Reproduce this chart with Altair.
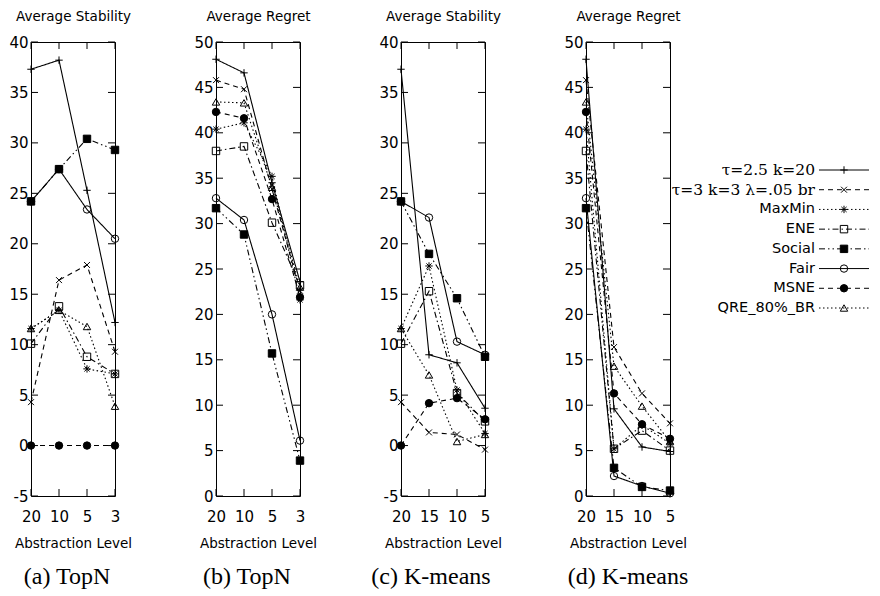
import altair as alt
import pandas as pd

series = ["τ=2.5 k=20", "τ=3 k=3 λ=.05 br", "MaxMin", "ENE", "Social", "Fair", "MSNE", "QRE_80%_BR"]
serif_labels = ["τ=2.5 k=20", "τ=3 k=3 λ=.05 br"]

levels_topn = ["20", "10", "5", "3"]
levels_kmeans = ["20", "15", "10", "5"]

# (a) TopN - Average Stability
topn_stability = [
    [37.3, 38.2, 25.3, 12.2],
    [4.3, 16.4, 17.9, 9.3],
    [11.6, 13.4, 7.6, 7.1],
    [10.1, 13.8, 8.8, 7.1],
    [24.2, 27.4, 30.4, 29.3],
    [24.2, 27.4, 23.4, 20.5],
    [0.0, 0.0, 0.0, 0.0],
    [11.6, 13.4, 11.8, 3.9],
]
# (b) TopN - Average Regret
topn_regret = [
    [48.1, 46.6, 34.5, 23.6],
    [45.8, 44.8, 33.8, 22.6],
    [40.4, 41.1, 35.2, 21.6],
    [38.0, 38.5, 30.1, 23.2],
    [31.7, 28.8, 15.7, 3.9],
    [32.8, 30.4, 20.0, 6.1],
    [42.3, 41.6, 32.7, 21.9],
    [43.4, 43.3, 34.0, 23.0],
]
# (c) K-means - Average Stability
kmeans_stability = [
    [37.3, 9.0, 8.2, 3.7],
    [4.3, 1.3, 1.1, -0.4],
    [11.6, 17.8, 5.5, 1.2],
    [10.1, 15.3, 5.2, 2.4],
    [24.2, 19.0, 14.6, 8.8],
    [24.2, 22.6, 10.3, 9.0],
    [0.0, 4.2, 4.7, 2.6],
    [11.6, 7.0, 0.4, 1.1],
]
# (d) K-means - Average Regret
kmeans_regret = [
    [48.1, 9.6, 5.4, 4.9],
    [45.8, 16.4, 11.3, 8.0],
    [40.4, 5.2, 7.8, 5.8],
    [38.0, 5.2, 7.2, 5.0],
    [31.7, 3.1, 1.0, 0.6],
    [32.8, 2.2, 1.1, 0.3],
    [42.3, 11.3, 7.9, 6.3],
    [43.4, 14.3, 9.9, 6.0],
]

stability_ticks = [-5, 0, 5, 10, 15, 20, 25, 30, 35, 40]
regret_ticks = [0, 5, 10, 15, 20, 25, 30, 35, 40, 45, 50]

# styles
PLUS = "M-1,0L1,0M0,-1L0,1"
CROSS = "M-0.8,-0.8L0.8,0.8M-0.8,0.8L0.8,-0.8"
STAR = "M-1,0L1,0M0,-1L0,1M-0.7,-0.7L0.7,0.7M-0.7,0.7L0.7,-0.7"
dash_range = [[1, 0], [5, 4], [1.5, 2.5], [6, 3, 1.5, 3], [6, 3, 1.5, 3, 1.5, 3], [1, 0], [5, 4], [1.5, 2.5]]
shape_range = [PLUS, CROSS, STAR, "square", "square", "circle", "circle", "triangle-up"]
fill_range = ["transparent", "transparent", "transparent", "transparent", "black", "transparent", "black", "transparent"]

W = 84
H = 454
SANS = "DejaVu Sans"
MSIZE = 55

dash_scale = alt.Scale(domain=series, range=dash_range)
shape_scale = alt.Scale(domain=series, range=shape_range)
fill_scale = alt.Scale(domain=series, range=fill_range)


def panel(levels, values, ticks, dom, ytitle, caption, cap_dx):
    rows = []
    for s, vals in zip(series, values):
        for i, (lv, v) in enumerate(zip(levels, vals)):
            rows.append({"series": s, "level": lv, "idx": i, "value": v})
    df = pd.DataFrame(rows)
    xtick_df = pd.DataFrame({"level": levels})
    ytick_df = pd.DataFrame({"value": ticks})

    xenc = alt.X(
        "level:O",
        sort=levels,
        scale=alt.Scale(type="point", domain=levels, padding=0),
        axis=alt.Axis(title="Abstraction Level", labelAngle=0, ticks=False, domain=False,
                      grid=False, labelPadding=13, titlePadding=12),
    )
    yenc = alt.Y(
        "value:Q",
        scale=alt.Scale(domain=dom, nice=False, zero=False),
        axis=alt.Axis(values=ticks, title=ytitle, titleAngle=0, titleX=W / 2, titleY=-26,
                      titleAlign="center", titleBaseline="middle", ticks=False, domain=False,
                      grid=False, labelPadding=3, labelExpr="'' + datum.value"),
    )

    lines = alt.Chart(df).mark_line(color="black", strokeWidth=1.1).encode(
        x=xenc, y=yenc,
        strokeDash=alt.StrokeDash("series:N", scale=dash_scale, legend=None),
        detail="series:N",
        order=alt.Order("idx:Q"),
    )
    pts = alt.Chart(df).mark_point(size=MSIZE, strokeWidth=1, opacity=1, color="black").encode(
        x=xenc, y=yenc,
        shape=alt.Shape("series:N", scale=shape_scale, legend=None),
        fill=alt.Fill("series:N", scale=fill_scale, legend=None),
        stroke=alt.value("black"),
    )
    yt_left = alt.Chart(ytick_df).mark_rule(color="black", strokeWidth=1).encode(
        y=yenc, x=alt.value(0), x2=alt.value(7))
    yt_right = alt.Chart(ytick_df).mark_rule(color="black", strokeWidth=1).encode(
        y=yenc, x=alt.value(W - 7), x2=alt.value(W))
    xt_top = alt.Chart(xtick_df).mark_rule(color="black", strokeWidth=1).encode(
        x=xenc, y=alt.value(0), y2=alt.value(7))
    xt_bot = alt.Chart(xtick_df).mark_rule(color="black", strokeWidth=1).encode(
        x=xenc, y=alt.value(H - 7), y2=alt.value(H))

    return alt.layer(lines, pts, yt_left, yt_right, xt_top, xt_bot).properties(
        width=W, height=H,
        title=alt.TitleParams(caption, orient="bottom", font="Liberation Serif", fontSize=24,
                              fontWeight="normal", offset=15, anchor="middle", frame="group",
                              dx=cap_dx, color="black"),
    )


pa = panel(levels_topn, topn_stability, stability_ticks, [-5, 40], "Average Stability", "(a) TopN", -6)
pb = panel(levels_topn, topn_regret, regret_ticks, [0, 50], "Average Regret", "(b) TopN", -11)
pc = panel(levels_kmeans, kmeans_stability, stability_ticks, [-5, 40], "Average Stability", "(c) K-means", -12)
pd_ = panel(levels_kmeans, kmeans_regret, regret_ticks, [0, 50], "Average Regret", "(d) K-means", 0)

# legend
leg_df = pd.DataFrame({"series": series, "label": series})
LW = 98
yleg = alt.Y("series:N", scale=alt.Scale(type="point", domain=series, range=[128, 266], padding=0), axis=None)
txt_sans = alt.Chart(leg_df).transform_filter(
    alt.FieldOneOfPredicate(field="series", oneOf=series[2:])
).mark_text(align="right", baseline="middle", font=SANS, fontSize=14.5, color="black").encode(
    y=yleg, x=alt.value(44), text="label:N")
txt_serif = alt.Chart(leg_df).transform_filter(
    alt.FieldOneOfPredicate(field="series", oneOf=serif_labels)
).mark_text(align="right", baseline="middle", font="DejaVu Serif", fontSize=15.5, color="black").encode(
    y=yleg, x=alt.value(44), text="label:N")
leg_rule = alt.Chart(leg_df).mark_rule(color="black", strokeWidth=1).encode(
    y=yleg, x=alt.value(48), x2=alt.value(LW),
    strokeDash=alt.StrokeDash("series:N", scale=dash_scale, legend=None))
leg_pts = alt.Chart(leg_df).mark_point(size=MSIZE, strokeWidth=1, opacity=1, color="black").encode(
    y=yleg, x=alt.value(73),
    shape=alt.Shape("series:N", scale=shape_scale, legend=None),
    fill=alt.Fill("series:N", scale=fill_scale, legend=None),
    stroke=alt.value("black"))
legend = alt.layer(txt_sans, txt_serif, leg_rule, leg_pts).properties(
    width=LW, height=H, view=alt.ViewBackground(strokeOpacity=0))

chart = alt.hconcat(
    pa, pb, pc, pd_, legend, spacing=101, bounds="flush", padding=0, background="white"
).configure_view(
    stroke="black", strokeWidth=1
).configure_axis(
    labelFont=SANS, labelFontSize=15, labelColor="black",
    titleFont=SANS, titleFontSize=13.5, titleFontWeight="normal", titleColor="black",
)

chart.save("out.html", embed_options={"renderer": "svg", "actions": False})
